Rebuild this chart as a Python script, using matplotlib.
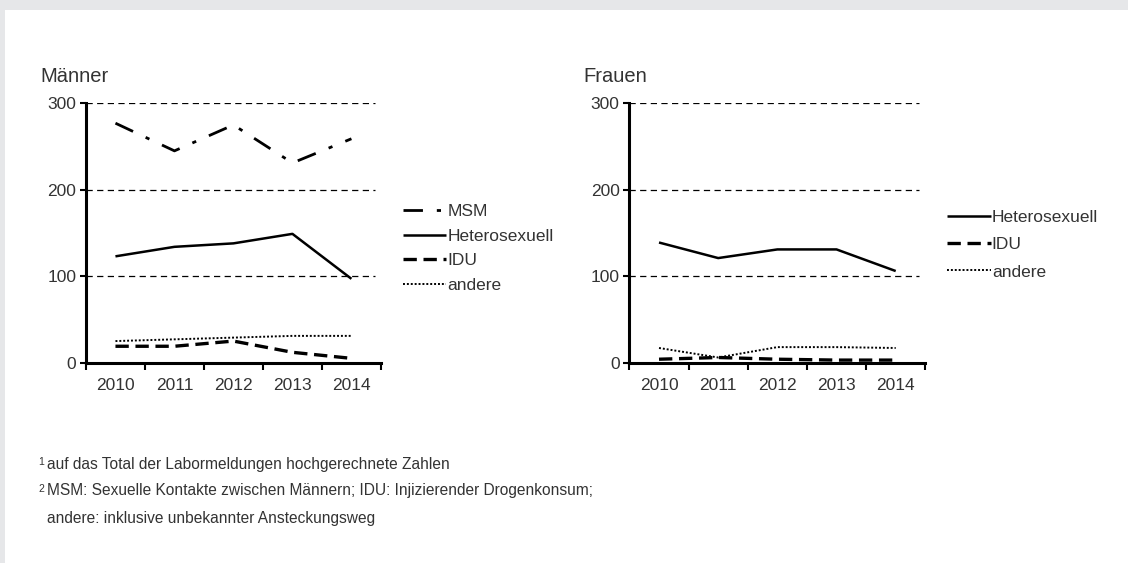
import matplotlib.pyplot as plt
from matplotlib.patches import Rectangle

plt.rcParams['font.family'] = ['Liberation Sans', 'DejaVu Sans']

years = ['2010', '2011', '2012', '2013', '2014']

# Männer
men_msm = [277, 245, 275, 231, 259]
men_hetero = [123, 134, 138, 149, 97]
men_idu = [19, 19, 25, 12, 5]
men_andere = [25, 27, 29, 31, 31]

# Frauen
women_hetero = [139, 121, 131, 131, 106]
women_idu = [4, 6, 4, 3, 3]
women_andere = [17, 6, 18, 18, 17]

TXT = '#333333'

STYLES = {
    'MSM': dict(ls=(0, (7, 5, 1.5, 5)), lw=2.0),
    'Heterosexuell': dict(ls='-', lw=1.8),
    'IDU': dict(ls=(0, (4, 2)), lw=2.4),
    'andere': dict(ls=(0, (1, 1)), lw=1.4),
}

fig = plt.figure(figsize=(11.28, 5.63), dpi=100)
fig.patch.set_facecolor('#e6e7e9')
fig.patches.append(Rectangle((5 / 1128, 0), 1, 1 - 10 / 563, transform=fig.transFigure,
                             facecolor='white', edgecolor='none', zorder=-5))


def draw_panel(ax, title, series, leg_y, spacing):
    x = range(len(years))
    for name, vals in series:
        ax.plot(x, vals, color='black', label=name, solid_capstyle='butt',
                dash_capstyle='butt', **STYLES[name])
    ax.set_xlim(-0.5, len(years) - 0.5)
    ax.set_ylim(0, 300)
    ax.set_yticks([0, 100, 200, 300])
    ax.set_xticks([i - 0.5 for i in range(len(years) + 1)], minor=False)
    ax.set_xticklabels([])
    ax.set_xticks(list(x), minor=True)
    ax.set_xticklabels(years, minor=True)
    ax.tick_params(axis='x', which='minor', length=0, pad=11, labelsize=12.5, labelcolor=TXT)
    ax.tick_params(axis='x', which='major', length=5, width=1.5, direction='out')
    ax.tick_params(axis='y', length=4, width=1.5, pad=3, labelsize=12.5, labelcolor=TXT)
    for s in ['top', 'right']:
        ax.spines[s].set_visible(False)
    for s in ['left', 'bottom']:
        ax.spines[s].set_linewidth(2.2)
    for yv in [100, 200, 300]:
        ax.axhline(yv, color='black', lw=0.9, ls=(0, (5, 3.5)), zorder=0, xmax=0.98)
    ax.set_facecolor('none')
    ax.text(-0.155, 1.105, title, transform=ax.transAxes, fontsize=14.5, color=TXT,
            ha='left', va='center')
    leg = ax.legend(loc='center left', bbox_to_anchor=(1.075, leg_y), frameon=False,
                    handlelength=2.5, handletextpad=0.05, labelspacing=spacing,
                    borderpad=0, borderaxespad=0, fontsize=12.5)
    for t in leg.get_texts():
        t.set_color(TXT)
    return leg


ax1 = fig.add_axes([0.0762, 0.3558, 0.2615, 0.4607])
draw_panel(ax1, 'Männer', [('MSM', men_msm), ('Heterosexuell', men_hetero),
                           ('IDU', men_idu), ('andere', men_andere)], 0.44, 0.55)
ax2 = fig.add_axes([0.558, 0.3558, 0.2623, 0.4607])
draw_panel(ax2, 'Frauen', [('Heterosexuell', women_hetero), ('IDU', women_idu),
                           ('andere', women_andere)], 0.455, 0.7)

notes = [('1', 'auf das Total der Labormeldungen hochgerechnete Zahlen'),
         ('2', 'MSM: Sexuelle Kontakte zwischen Männern; IDU: Injizierender Drogenkonsum;'),
         ('', 'andere: inklusive unbekannter Ansteckungsweg')]
for i, (sup, line) in enumerate(notes):
    y = 1 - (464 + i * 27) / 563
    if sup:
        fig.text(38 / 1128, y + 0.004, sup, fontsize=7.5, color=TXT, va='center')
    fig.text(47 / 1128, y, line, fontsize=11.2, color=TXT, va='center')

fig.savefig('out.png', dpi=100, facecolor=fig.get_facecolor())
